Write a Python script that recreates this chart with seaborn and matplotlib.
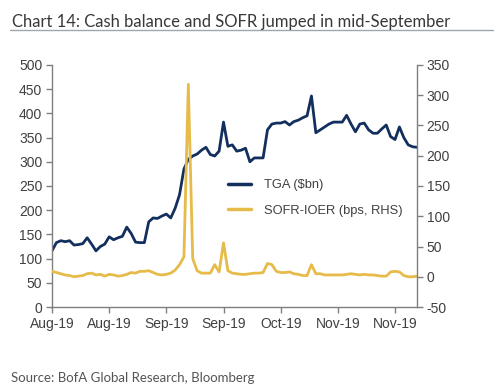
import numpy as np
import pandas as pd
import matplotlib
matplotlib.use("Agg")
import matplotlib.pyplot as plt
import seaborn as sns

# ---- data (business-day index) ----
tga = [116, 133, 137, 135, 137, 128, 129, 131, 143, 130,
       116, 125, 130, 145, 139, 143, 146, 165, 152, 134,
       133, 133, 176, 184, 183, 188, 192, 184, 204, 232,
       285, 305, 312, 316, 324, 330, 315, 312, 322, 382,
       332, 335, 322, 324, 328, 300, 308, 308, 308, 366,
       378, 380, 380, 383, 376, 383, 386, 391, 395, 436,
       360, 366, 372, 378, 382, 382, 382, 396, 378, 362,
       378, 380, 366, 359, 359, 368, 376, 352, 346, 372,
       350, 335, 331, 330]
sofr = [9, 7, 5, 3, 2, 0, 1, 2, 5, 6,
        3, 4, 1, 4, 3, 1, 2, 4, 7, 6,
        9, 9, 10, 7, 4, 3, 4, 6, 11, 20,
        33, 318, 30, 10, 6, 6, 6, 20, 8, 56,
        10, 6, 5, 4, 4, 5, 6, 6, 7, 22,
        20, 9, 7, 7, 8, 5, 4, 2, 2, 20,
        5, 5, 3, 3, 3, 3, 3, 4, 5, 4,
        3, 4, 3, 3, 2, 1, 1, 8, 9, 8,
        2, 0, 0, 1]
tick_pos = [0, 13, 26, 39, 52, 65, 78]
tick_labels = ["Aug-19", "Aug-19", "Sep-19", "Sep-19", "Oct-19", "Nov-19", "Nov-19"]
left_ticks = list(range(0, 501, 50))
right_ticks = list(range(-50, 351, 50))

title = "Chart 14: Cash balance and SOFR jumped in mid-September"
source = "Source: BofA Global Research, Bloomberg"

df = pd.DataFrame({"idx": np.arange(len(tga)), "TGA": tga, "SOFR": sofr})

sns.set_theme(style="ticks")
plt.rcParams["font.family"] = ["Liberation Sans", "DejaVu Sans"]
plt.rcParams["axes.unicode_minus"] = False

navy = "#132f5e"
gold = "#e6bb4a"
axis_col = "#7f7f7f"
text_col = "#404040"

fig = plt.figure(figsize=(5.0, 3.91), dpi=100)
ax = fig.add_axes([0.104, 0.2148, 0.730, 0.619])
ax2 = ax.twinx()

sns.lineplot(data=df, x="idx", y="TGA", ax=ax, color=navy, linewidth=2.0,
             label="TGA ($bn)", legend=False)
sns.lineplot(data=df, x="idx", y="SOFR", ax=ax2, color=gold, linewidth=2.0,
             label="SOFR-IOER (bps, RHS)", legend=False)

ax.set_xlim(0, len(tga) - 1)
ax.set_ylim(0, 500)
ax2.set_ylim(-50, 350)
ax.set_yticks(left_ticks)
ax2.set_yticks(right_ticks)
ax.set_xticks(tick_pos)
ax.set_xticklabels(tick_labels)
ax.set_xlabel("")
ax.set_ylabel("")
ax2.set_ylabel("")

for a in (ax, ax2):
    a.spines["top"].set_visible(False)
    for s in ("left", "right", "bottom"):
        a.spines[s].set_color(axis_col)
        a.spines[s].set_linewidth(1.0)
    a.tick_params(colors=axis_col, labelcolor=text_col, labelsize=10,
                  length=4, width=1.0, pad=3)
ax.spines["right"].set_visible(False)
ax2.spines["left"].set_visible(False)
ax2.spines["bottom"].set_visible(False)

h1, l1 = ax.get_legend_handles_labels()
h2, l2 = ax2.get_legend_handles_labels()
ax2.legend(h1 + h2, l1 + l2, loc="center left", bbox_to_anchor=(0.443, 0.494),
           bbox_transform=fig.transFigure, frameon=False, fontsize=9.3,
           handlelength=1.8, handletextpad=1.0, labelspacing=1.05, borderpad=0,
           labelcolor=text_col)
for line in ax2.get_legend().get_lines():
    line.set_linewidth(2.5)

fig.text(0.024, 0.945, title, fontsize=12, color="#383838",
         family=["Lato", "DejaVu Sans"], va="center", ha="left")
fig.add_artist(plt.Line2D([0.02, 0.986], [0.923, 0.923], color="#a0a6b0",
                          linewidth=1.0, transform=fig.transFigure))
fig.text(0.022, 0.033, source, fontsize=9.5, color="#555555",
         family=["Lato", "DejaVu Sans"], va="center", ha="left")

fig.savefig("out.png", dpi=100)
